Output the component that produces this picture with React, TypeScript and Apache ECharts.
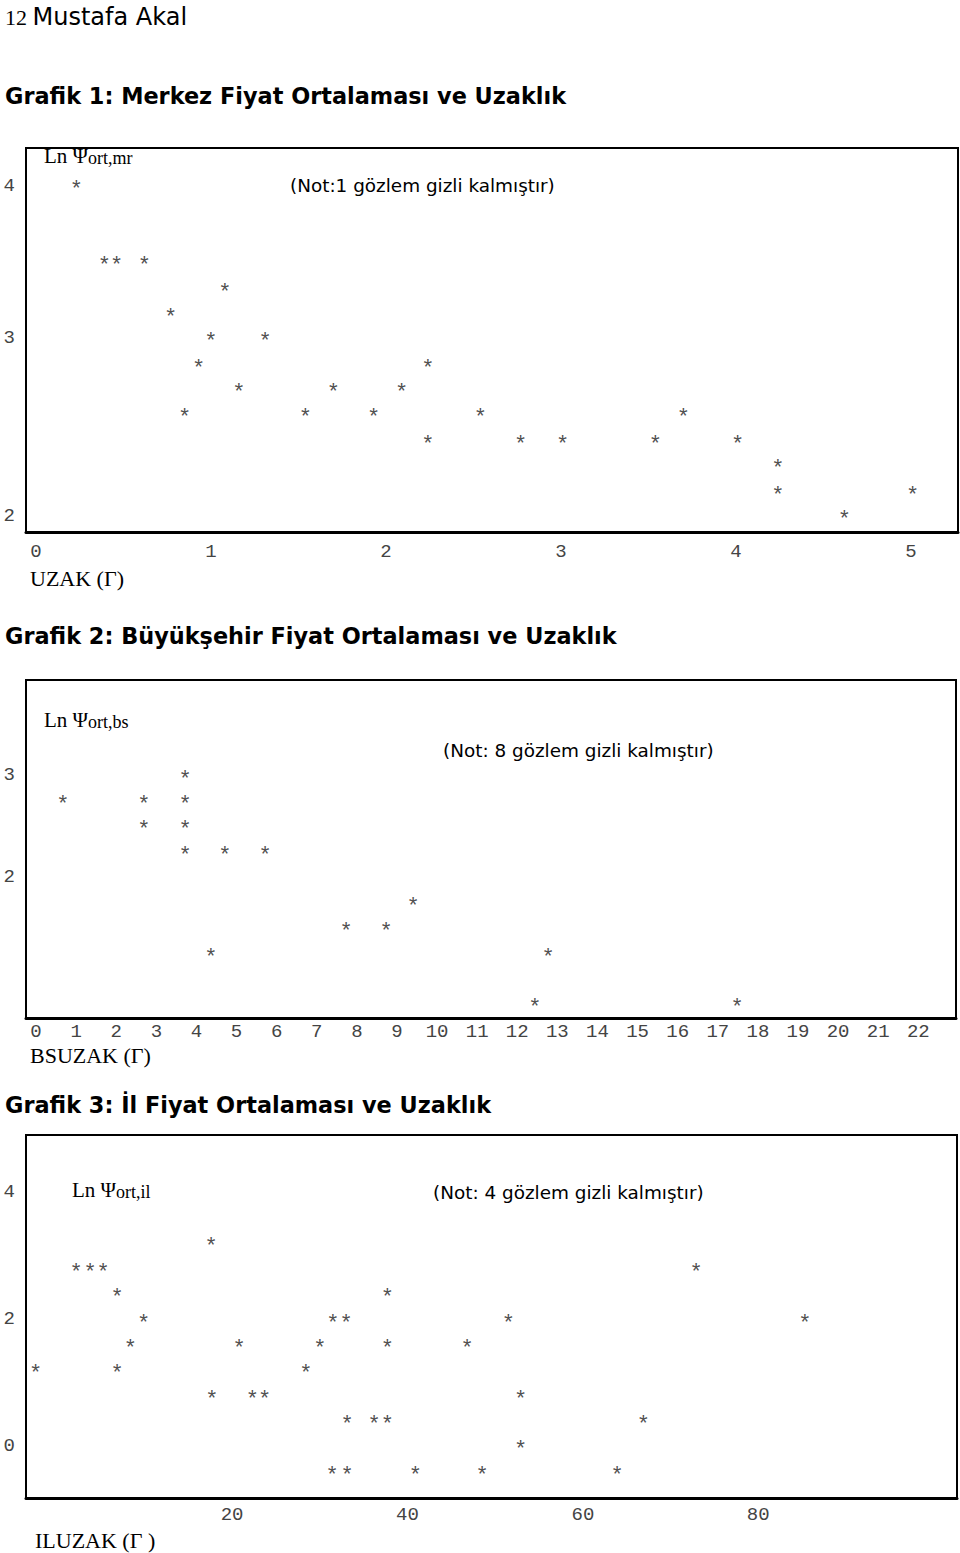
import { useEffect, useRef } from "react";
import * as echarts from "echarts";

// ---------- Texts ----------
const headerNum = "12";
const headerName = "Mustafa Akal";
const titles = [
  "Grafik 1: Merkez Fiyat Ortalaması ve Uzaklık",
  "Grafik 2: Büyükşehir Fiyat Ortalaması ve Uzaklık",
  "Grafik 3: İl Fiyat Ortalaması ve Uzaklık",
];
const notes = [
  "(Not:1 gözlem gizli kalmıştır)",
  "(Not: 8 gözlem gizli kalmıştır)",
  "(Not: 4 gözlem gizli kalmıştır)",
];
const ySubs = ["ort,mr", "ort,bs", "ort,il"];
const xNames = ["UZAK (Γ)", "BSUZAK (Γ)", "ILUZAK (Γ )"];

// ---------- Chart 1: Merkez ----------
const x1 = [0.23, 0.39, 0.46, 0.62, 1.08, 0.77, 1.0, 1.31, 0.93, 2.24, 1.16, 1.7, 2.09, 0.85, 1.54, 1.93, 2.54, 3.7, 2.24, 2.77, 3.01, 3.54, 4.01, 4.24, 4.24, 5.01, 4.62];
const y1 = [4.0, 3.54, 3.54, 3.54, 3.38, 3.23, 3.08, 3.08, 2.92, 2.92, 2.77, 2.77, 2.77, 2.62, 2.62, 2.62, 2.62, 2.62, 2.46, 2.46, 2.46, 2.46, 2.46, 2.31, 2.15, 2.15, 2.0];
const xTicks1 = [0, 1, 2, 3, 4, 5];
const yTickPos1 = [4, 3.08, 2];
const yTickText1 = ["4", "3", "2"];

// ---------- Chart 2: Büyükşehir ----------
const x2 = [3.72, 0.67, 2.69, 3.72, 2.69, 3.72, 3.72, 4.71, 5.71, 9.4, 7.73, 8.73, 4.36, 12.77, 12.44, 17.48];
const y2 = [3.0, 2.75, 2.75, 2.75, 2.5, 2.5, 2.25, 2.25, 2.25, 1.75, 1.5, 1.5, 1.25, 1.25, 0.75, 0.75];
const xTicks2 = [0, 1, 2, 3, 4, 5, 6, 7, 8, 9, 10, 11, 12, 13, 14, 15, 16, 17, 18, 19, 20, 21, 22];
const yTickPos2 = [3, 2];
const yTickText2 = ["3", "2"];

// ---------- Chart 3: İl ----------
const x3 = [17.6, 2.2, 3.8, 5.3, 72.9, 6.9, 37.7, 9.9, 31.5, 33.0, 51.5, 85.3, 8.4, 20.8, 30.0, 37.7, 46.8, -2.4, 6.9, 28.4, 17.7, 22.3, 23.7, 52.9, 33.1, 36.2, 37.7, 66.9, 52.9, 31.4, 33.1, 40.9, 48.5, 63.9];
const y3 = [3.2, 2.8, 2.8, 2.8, 2.8, 2.4, 2.4, 2.0, 2.0, 2.0, 2.0, 2.0, 1.6, 1.6, 1.6, 1.6, 1.6, 1.2, 1.2, 1.2, 0.8, 0.8, 0.8, 0.8, 0.4, 0.4, 0.4, 0.4, 0.0, -0.4, -0.4, -0.4, -0.4, -0.4];
const xTicks3 = [20, 40, 60, 80];
const yTickPos3 = [4, 2, 0];
const yTickText3 = ["4", "2", "0"];

const MONO = "Liberation Mono";
const SERIF = "Liberation Serif";
const HAND = "DejaVu Sans";

function pairs(xs: number[], ys: number[]) {
  return xs.map((x, i) => [x, ys[i]]);
}

export default function App() {
  const ref = useRef<HTMLDivElement>(null);
  useEffect(() => {
    if (!ref.current) return;
    const chart = echarts.init(ref.current, null, { renderer: "svg" });

    const grids = [
      { left: 26, right: 2, top: 148, bottom: 1553 - 532 },
      { left: 26, right: 4, top: 680, bottom: 1553 - 1018 },
      { left: 26, right: 3, top: 1135, bottom: 1553 - 1498 },
    ].map((g) => ({ ...g, show: true, borderColor: "#000", borderWidth: 2, containLabel: false }));

    const xRanges = [
      [-0.057, 5.269],
      [-0.25, 22.94],
      [-3.5, 102.66],
    ];
    const yRanges = [
      [1.903, 4.23],
      [0.612, 3.935],
      [-0.819, 4.898],
    ];
    const xTickSets = [xTicks1, xTicks2, xTicks3];
    const yTickPosSets = [yTickPos1, yTickPos2, yTickPos3];
    const yTickTextSets = [yTickText1, yTickText2, yTickText3];
    const xMargins = [10, 4, 7];

    const xAxis = [0, 1, 2].map((i) => ({
      type: "value",
      gridIndex: i,
      min: xRanges[i][0],
      max: xRanges[i][1],
      axisLine: { show: true, onZero: false, lineStyle: { color: "#000", width: 3 } },
      axisTick: { show: false },
      splitLine: { show: false },
      axisLabel: {
        customValues: xTickSets[i],
        margin: xMargins[i],
        fontFamily: MONO,
        fontSize: 19,
        color: "#444",
        formatter: (v: number) => String(Math.round(v)),
      },
    }));

    const yAxis = [0, 1, 2].map((i) => ({
      type: "value",
      gridIndex: i,
      min: yRanges[i][0],
      max: yRanges[i][1],
      axisLine: { show: true, onZero: false, lineStyle: { color: "#000", width: 2 } },
      axisTick: { show: false },
      splitLine: { show: false },
      axisLabel: {
        customValues: yTickPosSets[i],
        margin: 11,
        fontFamily: MONO,
        fontSize: 19,
        color: "#444",
        formatter: (v: number) => {
          const k = yTickPosSets[i].findIndex((p) => Math.abs(p - v) < 1e-6);
          return k >= 0 ? yTickTextSets[i][k] : "";
        },
      },
    }));

    const datasets = [pairs(x1, y1), pairs(x2, y2), pairs(x3, y3)];
    const series = datasets.map((d, i) => ({
      type: "scatter",
      xAxisIndex: i,
      yAxisIndex: i,
      data: d,
      symbol: "circle",
      symbolSize: 1,
      itemStyle: { color: "transparent" },
      label: {
        show: true,
        position: "inside",
        formatter: "*",
        fontFamily: MONO,
        fontSize: 22,
        color: "#222",
        offset: [0, 5],
      },
      silent: true,
    }));

    const titleY = [96, 636, 1105];
    const noteXY = [
      [290, 185],
      [443, 750],
      [433, 1192],
    ];
    const lnXY = [
      [44, 158],
      [44, 722],
      [72, 1192],
    ];
    const xNameXY = [
      [30, 578],
      [30, 1055],
      [35, 1540],
    ];

    const graphic: any[] = [
      {
        type: "text",
        x: 5,
        y: 17,
        style: {
          text: `{a|${headerNum} }{b|${headerName}}`,
          verticalAlign: "middle",
          rich: {
            a: { fontFamily: SERIF, fontSize: 22, fill: "#000" },
            b: { fontFamily: HAND, fontSize: 24, fill: "#000" },
          },
        },
      },
    ];
    titles.forEach((t, i) => {
      graphic.push({
        type: "text",
        x: 5,
        y: titleY[i],
        style: {
          text: t,
          fontFamily: HAND,
          fontWeight: "bold",
          fontSize: 22.4,
          fill: "#000",
          verticalAlign: "middle",
        },
      });
      graphic.push({
        type: "text",
        x: noteXY[i][0],
        y: noteXY[i][1],
        style: {
          text: notes[i],
          fontFamily: HAND,
          fontSize: 18.4,
          fill: "#000",
          verticalAlign: "middle",
        },
      });
      graphic.push({
        type: "text",
        x: lnXY[i][0],
        y: lnXY[i][1],
        style: {
          text: `{a|Ln Ψ}{b|${ySubs[i]}}`,
          verticalAlign: "middle",
          rich: {
            a: { fontFamily: SERIF, fontSize: 21, fill: "#000", padding: [0, 0, 5, 0] },
            b: { fontFamily: SERIF, fontSize: 18, fill: "#000" },
          },
        },
      });
      graphic.push({
        type: "text",
        x: xNameXY[i][0],
        y: xNameXY[i][1],
        style: {
          text: xNames[i],
          fontFamily: SERIF,
          fontSize: 22,
          fill: "#000",
          verticalAlign: "middle",
        },
      });
    });

    chart.setOption({
      animation: false,
      backgroundColor: "#fff",
      grid: grids,
      xAxis,
      yAxis,
      series,
      graphic,
    } as any);

    return () => chart.dispose();
  }, []);

  return (
    <div
      ref={ref}
      style={{ position: "absolute", left: 0, top: 0, width: 960, height: 1553 }}
    />
  );
}
